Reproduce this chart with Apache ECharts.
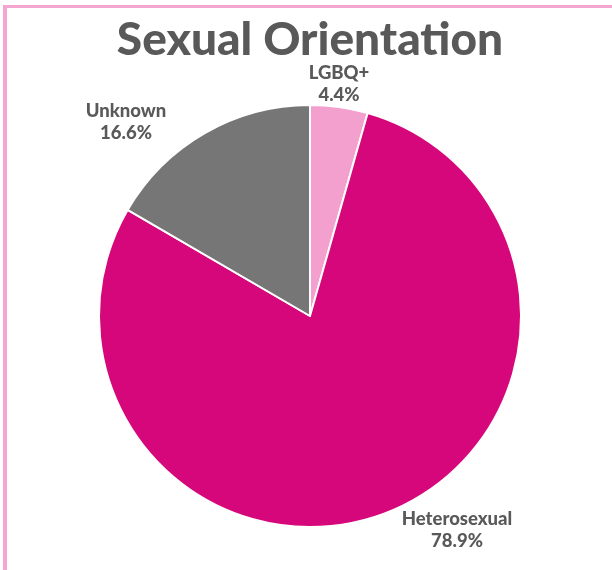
<!DOCTYPE html>
<html>
<head>
<meta charset="utf-8">
<script src="https://cdn.jsdelivr.net/npm/echarts@6/dist/echarts.min.js"></script>
<style>
html,body{margin:0;padding:0;background:#fff;}
#chart{width:612px;height:570px;}
</style>
</head>
<body>
<div id="chart"></div>
<script>
const categories = ['LGBQ+', 'Heterosexual', 'Unknown'];
const values = [4.4, 78.9, 16.6];
const colors = ['#F4A0CF', '#D6077A', '#767676'];
const labelPos = [[339, 84], [457, 530], [126, 122]];

const chart = echarts.init(document.getElementById('chart'));
chart.setOption({
  backgroundColor: '#fff',
  animation: false,
  title: {
    text: 'Sexual Orientation',
    left: 305, top: 12, textAlign: 'center',
    textStyle: {fontFamily: 'Lato', fontWeight: 900, fontSize: 46, color: '#595959'}
  },
  graphic: [
    {type: 'rect', shape: {x: 3, y: 5, width: 609, height: 3}, style: {fill: '#F4A6D0'}},
    {type: 'rect', shape: {x: 3, y: 5, width: 4, height: 565}, style: {fill: '#F4A6D0'}}
  ],
  series: [{
    type: 'pie',
    center: [310, 316],
    radius: 211,
    startAngle: 90,
    clockwise: true,
    data: categories.map((c, i) => ({name: c, value: values[i], itemStyle: {color: colors[i]}})),
    itemStyle: {borderColor: '#fff', borderWidth: 2},
    label: {
      show: true, position: 'outside',
      formatter: p => p.name + '\n' + p.value.toFixed(1) + '%',
      fontFamily: 'Lato', fontWeight: 900, fontSize: 18.5, color: '#595959',
      lineHeight: 22, align: 'center'
    },
    labelLine: {show: false},
    labelLayout: p => ({x: labelPos[p.dataIndex][0], y: labelPos[p.dataIndex][1], align: 'center', verticalAlign: 'middle'})
  }]
});
</script>
</body>
</html>
